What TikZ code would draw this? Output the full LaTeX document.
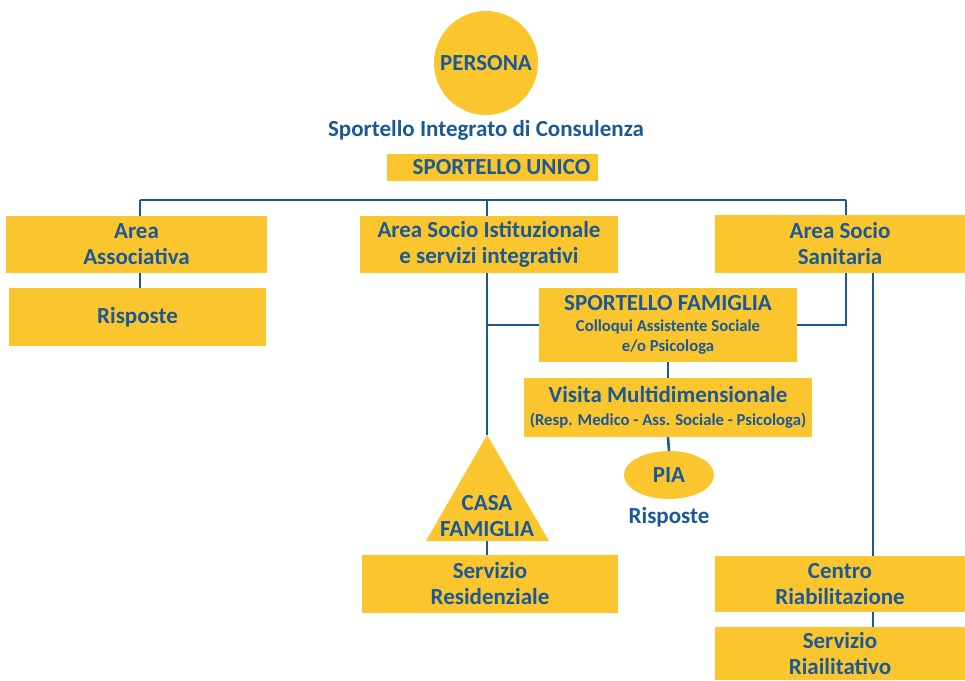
\documentclass[tikz,border=0pt]{standalone}
\usepackage{fontspec}
\setmainfont{Carlito}
\usetikzlibrary{backgrounds,shapes.geometric}
\definecolor{yel}{HTML}{FBC52E}
\definecolor{blu}{HTML}{1B5996}
\newcommand\smalltxt{\fontsize{16.7}{20.5}\selectfont}
\tikzset{
  box/.style={fill=yel, inner sep=0pt, align=center, text=blu, font=\bfseries\fontsize{23}{26}\selectfont},
  lbl/.style={inner sep=0pt, align=center, text=blu, font=\bfseries\fontsize{23}{26}\selectfont},
  link/.style={draw=blu, line width=2.6pt}
}
\begin{document}
\begin{tikzpicture}[x=1pt,y=-1pt]
\useasboundingbox (0,0) rectangle (965,680);
\node[box, circle, minimum size=104pt] (persona) at (486,63) {PERSONA};
\node[lbl] (sic) at (486,130) {Sportello Integrato di Consulenza};
\node[box, minimum width=211pt, minimum height=27pt] (su) at (492.5,167.5) {\hspace*{18pt}SPORTELLO UNICO};
\node[box, minimum width=261pt, minimum height=57pt] (aa) at (136.5,244.5) {Area\\Associativa};
\node[box, minimum width=257pt, minimum height=58pt] (ris) at (137.5,317) {Risposte};
\node[box, minimum width=258pt, minimum height=57pt] (asi) at (489,244.5) {Area Socio Istituzionale\\e servizi integrativi};
\node[box, minimum width=250pt, minimum height=58pt] (ass) at (840,244) {Area Socio\\Sanitaria};
\node[box, minimum width=258pt, minimum height=74pt] (sf) at (668,325) {SPORTELLO FAMIGLIA\\[-5pt]{\smalltxt Colloqui Assistente Sociale}\\[-6pt]{\smalltxt e/o Psicologa}};
\node[box, minimum width=288pt, minimum height=59pt] (vm) at (668,407.5) {Visita Multidimensionale\\[-3pt]{\smalltxt (Resp. Medico - Ass. Sociale - Psicologa)}};
\node[box, ellipse, minimum width=90pt, minimum height=48pt] (pia) at (669,475) {PIA};
\node[lbl] (risp2) at (669,517) {Risposte};
\fill[yel] (487,435) -- (549,541) -- (426,541) -- cycle;
\coordinate (cftop) at (487,435);
\coordinate (cfbot) at (487,541);
\node[lbl] (cf) at (487,516) {CASA\\FAMIGLIA};
\node[box, minimum width=256pt, minimum height=58pt] (sr) at (490,584) {Servizio\\Residenziale};
\node[box, minimum width=250pt, minimum height=56pt] (cr) at (840,584) {Centro\\Riabilitazione};
\node[box, minimum width=250pt, minimum height=53pt] (sria) at (840,653.5) {Servizio\\Riailitativo};
\coordinate (jl) at (140,200);
\coordinate (jm) at (487,200);
\coordinate (jr) at (846,200);
\begin{pgfonlayer}{background}
\draw[link] (jl) -- (jr);
\draw[link] (jl) -- (jl |- aa.north);
\draw[link] (aa.south -| jl) -- (ris.north -| jl);
\draw[link] (jm) -- (cftop);
\draw[link] (jr) -- (jr |- sf.east) -- (sf.east);
\draw[link] (jm |- sf.west) -- (sf.west);
\draw[link] (sf.south) -- (vm.north);
\draw[link] (vm.south) -- (pia.north);
\draw[link] (cfbot) -- (cfbot |- sr.north);
\coordinate (jv) at (873,273);
\draw[link] (jv |- ass.south) -- (jv |- cr.north);
\draw[link] (jv |- cr.south) -- (jv |- sria.north);
\end{pgfonlayer}
\end{tikzpicture}
\end{document}
